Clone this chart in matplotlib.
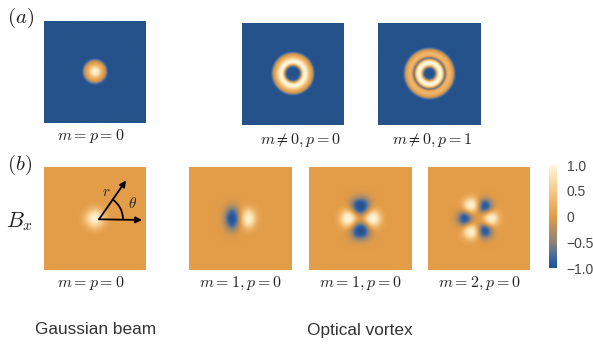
import numpy as np
import matplotlib
matplotlib.use('Agg')
import matplotlib.pyplot as plt
from matplotlib.colors import LinearSegmentedColormap
from matplotlib.patches import Arc

W, H = 593, 344

# radial profiles for row (a) (radius in px, value)
a1_r = [0, 3, 5, 7, 9, 10, 11, 12, 13, 14, 60]
a1_v = [1.0, 0.85, 0.5, 0.2, 0, -0.15, -0.4, -0.7, -0.9, -1, -1]
a2_r = [0, 4, 6, 7, 8, 9, 10, 11, 12, 13, 14, 15, 16, 17, 18, 19, 20, 21, 22, 23, 60]
a2_v = [-1, -1, -0.95, -0.75, -0.35, 0.2, 0.7, 0.95, 1, 0.95, 0.8, 0.6, 0.4, 0.22, 0.1, -0.05, -0.3, -0.7, -0.92, -1, -1]
a3_r = [0, 3, 5, 6, 7, 8, 9, 10, 11, 12, 13, 14, 15, 15.5, 16, 17, 18, 19, 20, 21, 22, 23, 24, 25, 26, 27, 60]
a3_v = [-1, -1, -0.9, -0.55, -0.1, 0.5, 0.85, 1, 1, 0.9, 0.6, 0.1, -0.5, -0.75, -0.5, 0, 0.2, 0.3, 0.3, 0.22, 0.12, 0, -0.25, -0.65, -0.9, -1, -1]

# Bx around the centre, top half, rows y=-24..0, columns x=-24..24 (4 px steps)
b1_rows = [
    [0, 0, 0, 0, 0, 0, 0, 0, 0, 0, 0, 0, 0],
    [0, 0, 0, 0, 0, 0, 0, 0, 0, 0, 0, 0, 0],
    [0, 0, 0, 0, 0, .02, .03, .02, 0, 0, 0, 0, 0],
    [0, 0, 0, .01, .06, .14, .18, .14, .06, .01, 0, 0, 0],
    [0, 0, .01, .06, .18, .4, .55, .4, .18, .06, .01, 0, 0],
    [0, 0, .02, .14, .4, .75, .95, .75, .4, .14, .02, 0, 0],
    [0, 0, .03, .18, .55, .95, 1.0, .95, .55, .18, .03, 0, 0],
]
b2_rows = [
    [0, 0, 0, 0, 0, 0, 0, 0, 0, 0, 0, 0, 0],
    [0, 0, 0, -.02, -.02, -.02, 0, 0, 0, 0, 0, 0, 0],
    [0, 0, -.03, -.08, -.12, -.08, 0, .03, .05, .03, 0, 0, 0],
    [0, -.02, -.08, -.24, -.38, -.22, 0, .1, .18, .1, .03, 0, 0],
    [0, -.03, -.16, -.54, -.82, -.5, 0, .35, .6, .35, .09, .02, 0],
    [0, -.05, -.26, -.82, -1, -.75, 0, .66, 1, .66, .18, .03, 0],
    [0, -.05, -.3, -.98, -1, -.9, 0, .82, 1, .82, .22, .03, 0],
]
b3_rows = [
    [0, 0, 0, -.02, -.05, -.09, -.12, -.09, -.05, -.02, 0, 0, 0],
    [0, 0, 0, -.05, -.21, -.42, -.52, -.42, -.21, -.05, 0, 0, 0],
    [0, 0, -.02, -.12, -.48, -.96, -1, -.96, -.48, -.12, -.02, 0, 0],
    [0, .02, .06, -.05, -.54, -1, -1, -1, -.54, -.05, .06, .02, 0],
    [.02, .12, .32, .33, -.16, -.87, -1, -.87, -.16, .33, .32, .12, .02],
    [.05, .28, .78, 1, .6, -.14, -.45, -.14, .6, 1, .78, .28, .05],
    [.06, .38, 1, 1, 1, .3, 0, .3, 1, 1, 1, .38, .06],
]
b4_rows = [
    [0, 0, .02, .05, .08, .05, 0, -.05, -.05, -.02, 0, 0, 0],
    [0, .02, .09, .28, .45, .28, -.03, -.27, -.28, -.12, -.03, 0, 0],
    [0, .05, .26, .81, 1, .81, -.16, -.86, -.9, -.42, -.08, 0, 0],
    [0, .03, .24, .95, 1, .87, -.33, -1, -1, -.57, -.09, 0, 0],
    [-.03, -.09, -.14, .26, .69, .44, -.27, -.84, -.7, -.12, .12, .06, .02],
    [-.08, -.42, -.86, -.76, -.22, .03, -.05, 0, .38, .9, .63, .2, .03],
    [-.12, -.62, -1, -1, -.56, -.06, -.03, .21, .93, 1, 1, .3, .05],
]

cbar_ticks = [1.0, 0.5, 0, -0.5, -1.0]
cbar_labels = ['1.0', '0.5', '0', '\u22120.5', '\u22121.0']

cmap = LinearSegmentedColormap.from_list('sunset', [
    (0.0, '#25528a'), (0.06, '#2a5eab'), (0.25, '#8d8378'), (0.5, '#e39c47'),
    (0.75, '#f6c987'), (1.0, '#fff8dc')])

plt.rcParams['mathtext.fontset'] = 'cm'
fig = plt.figure(figsize=(W / 100, H / 100), dpi=100)


def panel(x0, y0, x1, y1):
    ax = fig.add_axes([x0 / W, 1 - y1 / H, (x1 - x0) / W, (y1 - y0) / H])
    ax.axis('off')
    return ax


# row (a)
def radial(box, r_list, v_list):
    ax = panel(*box)
    xs = np.linspace(-51, 51, 307)
    X, Y = np.meshgrid(xs, xs)
    img = np.interp(np.hypot(X, Y), r_list, v_list)
    ax.imshow(img, cmap=cmap, vmin=-1, vmax=1, extent=(-51, 51, 51, -51),
              interpolation='bilinear', aspect='auto')


radial((44, 20.5, 146, 123), a1_r, a1_v)
radial((242, 22.5, 344, 125), a2_r, a2_v)
radial((377.5, 22.5, 480, 125), a3_r, a3_v)


# row (b)
def field(box, rows):
    ax = panel(*box)
    top = np.array(rows, dtype=float)
    img = np.vstack([top, top[-2::-1]])
    img = np.pad(img, 7)
    ax.imshow(img, cmap=cmap, vmin=-1, vmax=1, extent=(-54, 54, 54, -54),
              interpolation='bicubic', interpolation_stage='data', aspect='auto')
    ax.set_xlim(-51, 51)
    ax.set_ylim(51, -51)


field((44, 167, 146, 270), b1_rows)
field((189, 167, 291, 270), b2_rows)
field((308.5, 167, 411, 270), b3_rows)
field((428, 167, 530, 270), b4_rows)

# colorbar
cax = fig.add_axes([549 / W, 1 - 268 / H, 8 / W, 103 / H])
grad = np.linspace(1, -1, 256).reshape(-1, 1)
cax.imshow(grad, cmap=cmap, vmin=-1, vmax=1, aspect='auto', extent=(0, 1, -1, 1))
cax.set_xticks([])
cax.yaxis.tick_right()
cax.set_yticks(cbar_ticks)
cax.set_yticklabels(cbar_labels, family='Liberation Sans', fontsize=10, color='#444444')
cax.tick_params(axis='y', length=0, pad=7)
for s in cax.spines.values():
    s.set_visible(False)

# overlay in pixel coords for text and arrows
ov = fig.add_axes([0, 0, 1, 1])
ov.set_xlim(0, W)
ov.set_ylim(H, 0)
ov.axis('off')
ov.patch.set_alpha(0)

labels = [
    (91, 136, r'$m = p = 0$'), (301, 140, r'$m \neq 0, p = 0$'), (432, 140, r'$m \neq 0, p = 1$'),
    (91, 283, r'$m = p = 0$'), (240, 283, r'$m = 1, p = 0$'), (360, 283, r'$m = 1, p = 0$'),
    (479, 283, r'$m = 2, p = 0$'),
]
for x, y, s in labels:
    ov.text(x, y, s, fontsize=11.5, ha='center', va='center', color='#222222')

ov.text(21, 18, r'$(a)$', fontsize=15, ha='center', va='center', color='#222222')
ov.text(20, 165, r'$(b)$', fontsize=15, ha='center', va='center', color='#222222')
ov.text(20, 222, r'$B_x$', fontsize=16, ha='center', va='center', color='#222222')
ov.text(95.5, 330, 'Gaussian beam', fontsize=12.4, family='Liberation Sans', ha='center', va='center', color='#333333')
ov.text(360, 330, 'Optical vortex', fontsize=12.4, family='Liberation Sans', ha='center', va='center', color='#333333')

# r, theta sketch on the first Bx panel
arrow = dict(arrowstyle='-|>', color='black', lw=1.3, mutation_scale=9, shrinkA=0, shrinkB=0)
ov.annotate('', xy=(142, 220), xytext=(99, 219.3), arrowprops=arrow)
ov.annotate('', xy=(126, 180.5), xytext=(99, 219.3), arrowprops=arrow)
ov.add_patch(Arc((99, 219.3), 48, 48, theta1=-57, theta2=0, color='black', lw=1.3))
ov.text(106, 191, r'$r$', fontsize=11, ha='center', va='center', color='#222222')
ov.text(132, 204, r'$\theta$', fontsize=11, ha='center', va='center', color='#222222')

fig.savefig('out.png', dpi=100)
